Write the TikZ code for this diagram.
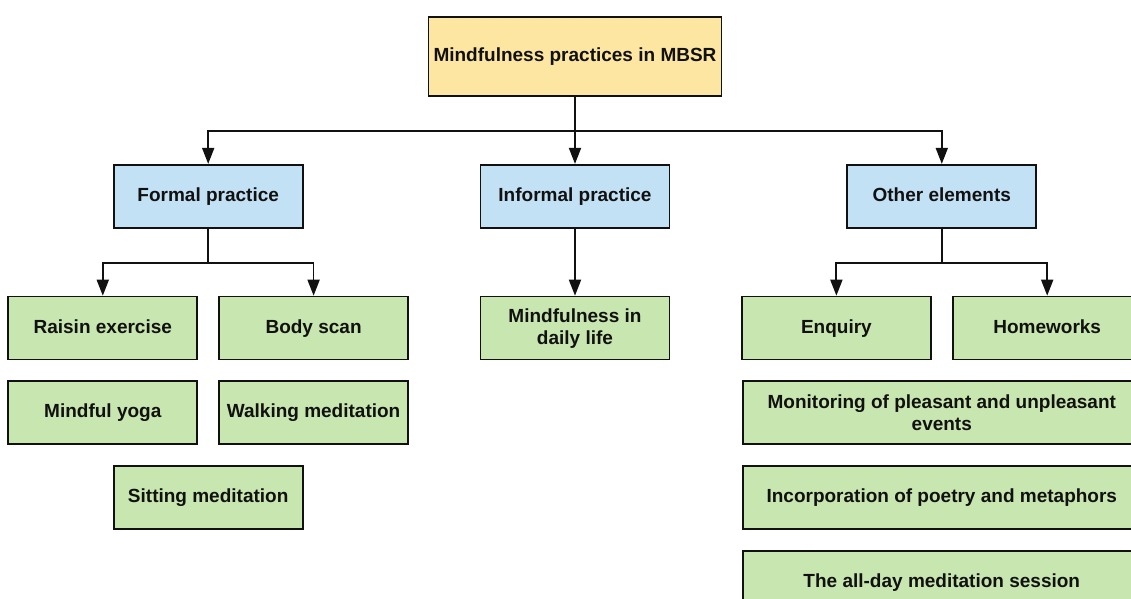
\documentclass[tikz,border=0pt]{standalone}
\usepackage{fontspec}
\setmainfont{Liberation Sans}
\usepackage{xcolor}
\usetikzlibrary{
arrows.meta,
positioning
}
\definecolor{rootfill}{HTML}{FDE6A2}
\definecolor{branchfill}{HTML}{C3E1F5}
\definecolor{leaffill}{HTML}{C8E6AF}
\definecolor{inkline}{HTML}{111111}

\begin{document}
\begin{tikzpicture}[
font=\fontsize{9.5}{11}\selectfont\bfseries,
text=inkline,
box/.style={
rectangle,
draw=inkline,
line width=0.9pt,
minimum width=94.5pt,
minimum height=31.5pt,
inner sep=2pt,
text height=7pt,
text depth=2pt,
align=center
},
twolines/.style={text height=, text depth=},
root/.style={box, fill=rootfill, minimum width=146.5pt, minimum height=39.5pt},
branch/.style={box, fill=branchfill},
leaf/.style={box, fill=leaffill},
wideleaf/.style={leaf, minimum width=199pt},
arrow/.style={-{Triangle[width=6pt,length=8pt]}, line width=0.9pt, draw=inkline}
]

% frame of the picture
\path[use as bounding box, clip] (-287.5pt,28.25pt) rectangle (278pt,-271.25pt);
\fill[white] (-287.5pt,28.25pt) rectangle (278pt,-271.25pt);

% top level
\node[root] (mbsr) {Mindfulness practices in MBSR};

% second level
\node[branch, below=33.5pt of mbsr] (informal) {Informal practice};
\node[branch, left=88pt of informal] (formal) {Formal practice};
\node[branch, right=88pt of informal] (other) {Other elements};

% formal practice
\node[leaf, anchor=north east] (raisin) at ([xshift=-5pt,yshift=-33.5pt]formal.south) {Raisin exercise};
\node[leaf, right=10pt of raisin] (bodyscan) {Body scan};
\node[leaf, below=10pt of raisin] (yoga) {Mindful yoga};
\node[leaf, below=10pt of bodyscan] (walking) {Walking meditation};
\node[leaf, anchor=north] (sitting) at ([yshift=-10pt]yoga.south -| formal.south) {Sitting meditation};

% informal practice
\node[leaf, twolines, below=33.5pt of informal] (daily) {Mindfulness in\\daily life};

% other elements
\node[leaf, anchor=north east] (enquiry) at ([xshift=-5pt,yshift=-33.5pt]other.south) {Enquiry};
\node[leaf, right=10pt of enquiry] (homework) {Homeworks};
\node[wideleaf, twolines, anchor=north] (monitoring) at ([yshift=-10pt]enquiry.south -| other.south) {Monitoring of pleasant and unpleasant\\events};
\node[wideleaf, below=10pt of monitoring] (poetry) {Incorporation of poetry and metaphors};
\node[wideleaf, below=10pt of poetry] (allday) {The all-day meditation session};

% connectors
\draw[arrow] (mbsr.south) -- (informal.north);
\draw[arrow] (mbsr.south) -- ++(0,-17pt) -| (formal.north);
\draw[arrow] (mbsr.south) -- ++(0,-17pt) -| (other.north);
\draw[arrow] (formal.south) -- ++(0,-17pt) -| (raisin.north);
\draw[arrow] (formal.south) -- ++(0,-17pt) -| (bodyscan.north);
\draw[arrow] (informal.south) -- (daily.north);
\draw[arrow] (other.south) -- ++(0,-17pt) -| (enquiry.north);
\draw[arrow] (other.south) -- ++(0,-17pt) -| (homework.north);

\end{tikzpicture}
\end{document}
